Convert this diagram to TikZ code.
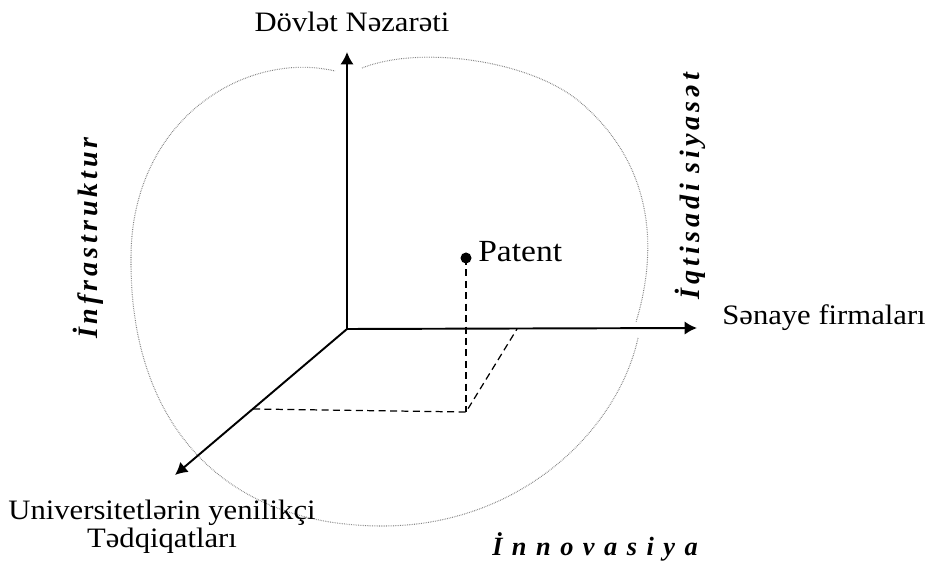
\documentclass[tikz,border=0pt]{standalone}
\usepackage{fontspec}
\setmainfont[FakeStretch=1.09]{Liberation Serif}
\newfontfamily\sidefont[LetterSpace=14]{Liberation Serif}
\newfontfamily\widesidefont[LetterSpace=36]{Liberation Serif}
\usetikzlibrary{arrows.meta}

\begin{document}
\begin{tikzpicture}[x=0.02cm, y=-0.02cm,
	axis/.style={line width=1.1pt, -{Latex[length=7pt,width=7.5pt]}},
	proj/.style={line width=0.7pt, dash pattern=on 4pt off 2.5pt},
	rim/.style={line width=0.6pt, color=gray, dash pattern=on 0.4pt off 0.6pt},
	lbl/.style={font=\fontsize{16}{16}\selectfont, inner sep=0pt},
	side/.style={font=\fontsize{16}{18}\selectfont\sidefont\bfseries\itshape, inner sep=0pt},
	bottomside/.style={font=\fontsize{15}{18}\selectfont\widesidefont\bfseries\itshape, inner sep=0pt}]
	\useasboundingbox (0,0) rectangle (926,563);
	% dotted outline
	\draw[rim] (362,68) .. controls (420,45) and (530,60) .. (580,102)
		.. controls (660,170) and (655,260) .. (636,322);
	\draw[rim] (638,338) .. controls (618,430) and (520,527) .. (380,526)
		.. controls (220,525) and (130,420) .. (131,260)
		.. controls (130,120) and (245,50) .. (335,71);
	% axes
	\coordinate (O) at (347,329);
	\coordinate (Z) at (347,52);
	\coordinate (X) at (697,328);
	\coordinate (Y) at (175,475);
	\draw[axis] (O) -- (Z);
	\draw[axis] (O) -- (X);
	\draw[axis] (O) -- (Y);
	% patent and its projection
	\coordinate (P) at (466,258);
	\coordinate (F) at (466,412);
	\coordinate (D) at (253,409);
	\coordinate (R) at (517,329);
	\draw[proj] (P) -- (F);
	\draw[proj] (D) -- (F) -- (R);
	\fill (P) circle (5.5);
	% labels
	\node[lbl, anchor=base] (dovlet) at (352,32) {Dövlət Nəzarəti};
	\node[lbl, anchor=base west] (senaye) at (722,325) {Sənaye firmaları};
	\node[lbl, font=\fontsize{17.5}{18}\selectfont, anchor=base west] (patent) at (478,262) {Patent};
	\node[lbl, align=center, anchor=north] (univ) at (162,500) {Universitetlərin yenilikçi\\Tədqiqatları};
	\node[side, rotate=90] (infra) at (88,238) {İnfrastruktur};
	\node[side, rotate=90] (iqtisad) at (690,186) {İqtisadi siyasət};
	\node[bottomside, anchor=base] (innov) at (595,555) {İnnovasiya};
\end{tikzpicture}
\end{document}
